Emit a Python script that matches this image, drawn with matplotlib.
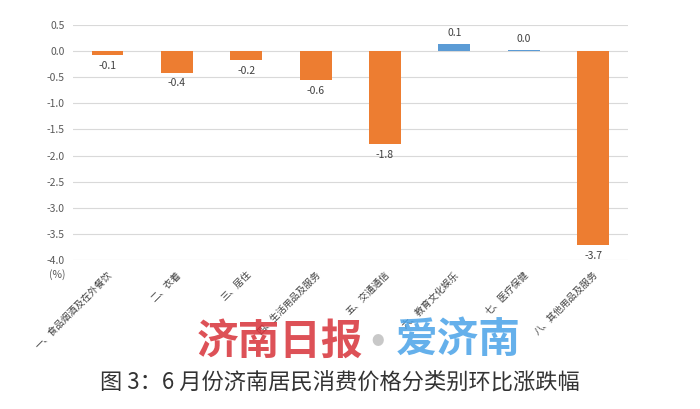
import numpy as np
import matplotlib.pyplot as plt

plt.rcParams['font.family'] = ['Noto Sans CJK SC', 'DejaVu Sans']
plt.rcParams['axes.unicode_minus'] = False

categories = ['一、食品烟酒及在外餐饮', '二、衣着', '三、居住', '四、生活用品及服务',
              '五、交通通信', '六、教育文化娱乐', '七、医疗保健', '八、其他用品及服务']
values = [-0.08, -0.41, -0.17, -0.56, -1.78, 0.14, 0.02, -3.72]
labels = ['-0.1', '-0.4', '-0.2', '-0.6', '-1.8', '0.1', '0.0', '-3.7']
yticks = [0.5, 0.0, -0.5, -1.0, -1.5, -2.0, -2.5, -3.0, -3.5, -4.0]

orange = '#ED7D31'
blue = '#5B9BD5'

fig = plt.figure(figsize=(7, 4.09), dpi=100)
ax = fig.add_axes([0.104, 0.364, 0.793, 0.575])

x = np.arange(len(categories))
colors = [blue if v > 0 else orange for v in values]
ax.bar(x, values, width=0.46, color=colors, zorder=3)

for xi, v, lab in zip(x, values, labels):
    if v < 0:
        ax.annotate(lab, (xi, v), xytext=(0, -4), textcoords='offset points',
                    ha='center', va='top', fontsize=7.5, color='#404040')
    else:
        ax.annotate(lab, (xi, v), xytext=(0, 4), textcoords='offset points',
                    ha='center', va='bottom', fontsize=7.5, color='#404040')

ax.set_ylim(-4.0, 0.5)
ax.set_xlim(-0.5, len(categories) - 0.5)
ax.set_yticks(yticks)
ax.set_yticklabels([f'{t:.1f}' for t in yticks], fontsize=7.5, color='#595959')
ax.grid(axis='y', color='#d9d9d9', linewidth=0.8, zorder=0)
for s in ax.spines.values():
    s.set_visible(False)
ax.tick_params(axis='both', length=0)
ax.tick_params(axis='y', pad=6)

ax.set_xticks(x)
ax.set_xticklabels(categories, rotation=45, ha='right', rotation_mode='anchor',
                   fontsize=6.8, color='#404040')
ax.tick_params(axis='x', pad=7)

fig.text(0.082, 0.328, '(%)', fontsize=7.5, color='#595959', ha='center', va='center')

# watermark
fig.text(0.40, 0.165, '济南日报', fontsize=30, color='#d8323a', alpha=0.85,
         ha='center', va='center', fontweight='bold', fontstyle='italic')
fig.text(0.54, 0.165, '●', fontsize=9, color='#c8c8c8', ha='center', va='center')
fig.text(0.655, 0.168, '爱济南', fontsize=30, color='#4aa3e8', alpha=0.85,
         ha='center', va='center', fontweight='bold')

fig.text(0.486, 0.066, '图 3：6 月份济南居民消费价格分类别环比涨跌幅', fontsize=16,
         color='#333333', ha='center', va='center')

fig.savefig('out.png', dpi=100)
